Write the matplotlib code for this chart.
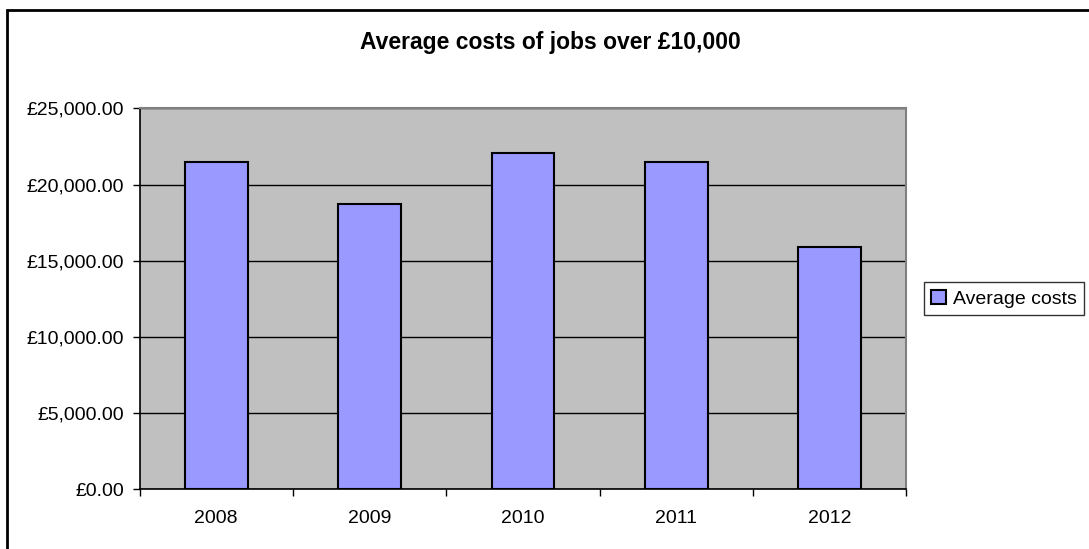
import matplotlib.pyplot as plt
from matplotlib.patches import Rectangle
from matplotlib.ticker import FuncFormatter, FixedLocator
import numpy as np

plt.rcParams['font.family'] = ['Liberation Sans', 'DejaVu Sans']

years = ['2008', '2009', '2010', '2011', '2012']
avg_costs = [21500, 18700, 22100, 21500, 15900]

fig = plt.figure(figsize=(10.89, 5.49), dpi=100)
ax = fig.add_axes([0.1281, 0.1084, 0.7043, 0.6943])
ax.set_facecolor('#c0c0c0')

x = np.arange(len(years))
ax.bar(x, avg_costs, width=0.41, color='#9999ff', edgecolor='black',
       linewidth=1.5, label='Average costs', zorder=3)

ax.set_xlim(-0.5, len(years) - 0.5)
ax.set_ylim(0, 25000)
ax.set_yticks(np.arange(0, 25001, 5000))
ax.yaxis.set_major_formatter(FuncFormatter(lambda v, p: '£{:,.2f}'.format(v)))
ax.yaxis.grid(True, color='black', linewidth=1, zorder=1)
ax.set_axisbelow(True)

ax.set_xticks(x)
ax.set_xticklabels(years)
ax.xaxis.set_minor_locator(FixedLocator(np.arange(-0.5, len(years), 1.0)))
ax.tick_params(axis='x', which='major', length=0, pad=15, labelsize=14)
ax.tick_params(axis='x', which='minor', length=5, width=1, direction='out')
ax.tick_params(axis='y', length=5, width=1, pad=6, labelsize=14)

for s in ['top', 'right']:
    ax.spines[s].set_color('#808080')
    ax.spines[s].set_linewidth(1.5)
for s in ['left', 'bottom']:
    ax.spines[s].set_color('black')
    ax.spines[s].set_linewidth(1.2)

fig.text(0.505, 0.922, 'Average costs of jobs over £10,000', ha='center',
         va='center', fontsize=16.5, fontweight='bold')

leg = fig.legend(loc='center', bbox_to_anchor=(0.922, 0.456), fontsize=14,
                 frameon=True, fancybox=False, shadow=False, handlelength=0.75,
                 handleheight=0.75, handletextpad=0.35, borderpad=0.4,
                 borderaxespad=0)
leg.get_frame().set_edgecolor('black')
leg.get_frame().set_linewidth(1)

# outer chart border
fig.patches.append(Rectangle((7 / 1089, -0.1), 1.2, 1.1 - 10 / 549,
                             transform=fig.transFigure, fill=False,
                             edgecolor='black', linewidth=2))

fig.savefig('out.png', dpi=100)
